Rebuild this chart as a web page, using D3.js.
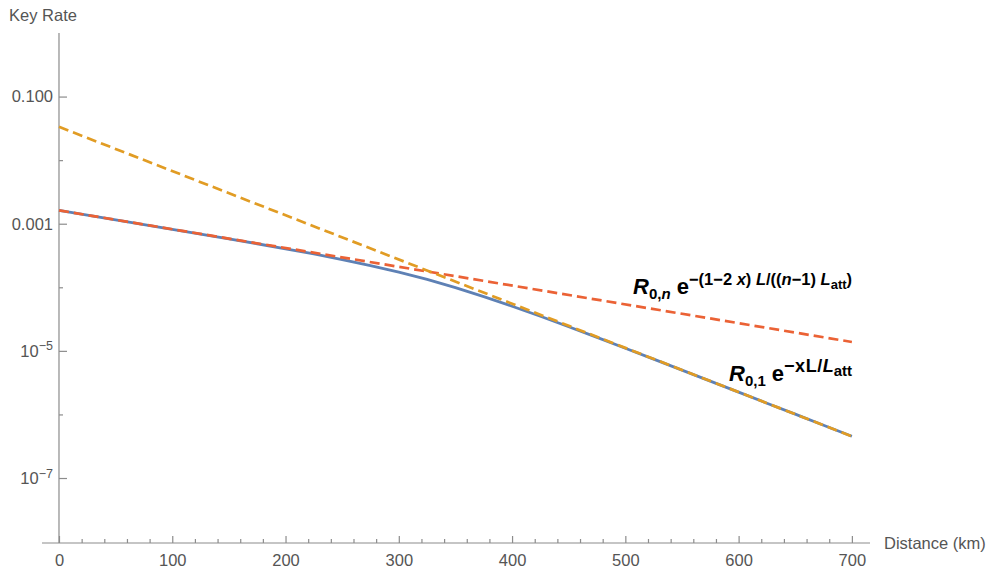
<!DOCTYPE html>
<html>
<head>
<meta charset="utf-8">
<script src="https://cdn.jsdelivr.net/npm/d3@7"></script>
<style>
  html, body { margin: 0; padding: 0; background: #fff; }
  svg { display: block; font-family: "Liberation Sans", Arial, sans-serif; }
</style>
</head>
<body>
<svg id="chart" width="991" height="572"></svg>
<script>
// Distance grid (km) for the exact key-rate curve
const distance = [0, 25, 50, 75, 100, 125, 150, 175, 200, 225, 250, 275, 300, 325, 350,
                  375, 400, 425, 450, 475, 500, 525, 550, 575, 600, 625, 650, 675, 700];
// Key rate (solid curve)
const keyRate = [1.62e-3, 1.367e-3, 1.152e-3, 9.71e-4, 8.18e-4, 6.88e-4, 5.78e-4, 4.84e-4, 4.03e-4,
                 3.34e-4, 2.73e-4, 2.20e-4, 1.73e-4, 1.33e-4, 9.86e-5, 7.13e-5, 5.04e-5, 3.50e-5,
                 2.39e-5, 1.63e-5, 1.10e-5, 7.40e-6, 4.97e-6, 3.34e-6, 2.24e-6, 1.50e-6, 1.01e-6,
                 6.75e-7, 4.53e-7];
// Asymptotes (straight lines on the log scale)
const asymDistance = [0, 700];
const asymN = [1.62e-3, 1.38e-5];   // R0,n e^{-(1-2x)L/((n-1)Latt)}
const asym1 = [3.34e-2, 4.53e-7];   // R0,1 e^{-xL/Latt}

const xMajor = [0, 100, 200, 300, 400, 500, 600, 700];
const xMinor = [20, 40, 60, 80, 120, 140, 160, 180, 220, 240, 260, 280, 320, 340, 360, 380,
                420, 440, 460, 480, 520, 540, 560, 580, 620, 640, 660, 680];
const yMajor = [1e-1, 1e-3, 1e-5, 1e-7];
const yMinor = [1e-2, 1e-4, 1e-6];

const svg = d3.select("#chart");
const x = d3.scaleLinear().domain([-15, 716]).range([42, 870]);
const y = d3.scaleLog().domain([1, 9.5e-9]).range([33, 543]);

const axisColor = "#8c8c8c";
const textColor = "#555";
const labelSize = "16.5px";

// x axis
const xAxisG = svg.append("g").attr("transform", `translate(0,${y.range()[1]})`);
xAxisG.append("g").attr("class", "major")
  .call(d3.axisBottom(x).tickValues(xMajor).tickSize(-7).tickPadding(11).tickFormat(d3.format("d")));
xAxisG.append("g").attr("class", "minor")
  .call(d3.axisBottom(x).tickValues(xMinor).tickSize(-4).tickFormat(""))
  .select(".domain").remove();
xAxisG.selectAll(".domain").attr("d", `M${x.range()[0]},0H${x.range()[1]}`);

// y axis
const yAxisG = svg.append("g").attr("transform", `translate(${x(0)},0)`);
yAxisG.append("g").attr("class", "major")
  .call(d3.axisLeft(y).tickValues(yMajor).tickSize(-8).tickPadding(6).tickFormat(""));
yAxisG.append("g").attr("class", "minor")
  .call(d3.axisLeft(y).tickValues(yMinor).tickSize(-4).tickFormat(""))
  .select(".domain").remove();
yAxisG.selectAll(".domain").attr("d", `M0,${y.range()[0]}V${y.range()[1]}`);
yAxisG.selectAll(".minor .tick text").remove();
xAxisG.selectAll(".minor .tick text").remove();

// y tick labels: decimals for large values, powers of ten below
yAxisG.selectAll(".major .tick text").each(function(d) {
  const t = d3.select(this);
  const e = Math.round(Math.log10(d));
  if (e >= -3) {
    t.text(d3.format(".3f")(d));
  } else {
    t.text(null);
    t.append("tspan").text("10");
    t.append("tspan").attr("dy", "-0.5em").attr("font-size", "12.5px").text("\u2212" + (-e));
  }
});

svg.selectAll(".domain, .tick line").attr("stroke", axisColor).attr("stroke-width", 1.2);
svg.selectAll(".tick text").attr("fill", textColor).attr("font-size", labelSize)
  .attr("font-family", "Liberation Sans, Arial, sans-serif");

// axis titles
svg.append("text").attr("x", 43).attr("y", 21).attr("text-anchor", "middle")
  .attr("font-size", labelSize).attr("fill", textColor).text("Key Rate");
svg.append("text").attr("x", 884).attr("y", 549)
  .attr("font-size", labelSize).attr("fill", textColor).text("Distance (km)");

// curves
const line = d3.line().x(d => x(d[0])).y(d => y(d[1]));
const plot = svg.append("g");
plot.append("path").datum(distance.map((d, i) => [d, keyRate[i]]))
  .attr("d", line).attr("fill", "none").attr("stroke", "#5E81B5").attr("stroke-width", 2.8);
plot.append("path").datum(asymDistance.map((d, i) => [d, asymN[i]]))
  .attr("d", line).attr("fill", "none").attr("stroke", "#EB6235").attr("stroke-width", 2.7)
  .attr("stroke-dasharray", "10,5");
plot.append("path").datum(asymDistance.map((d, i) => [d, asym1[i]]))
  .attr("d", line).attr("fill", "none").attr("stroke", "#E19C24").attr("stroke-width", 2.7)
  .attr("stroke-dasharray", "10,5");

// formula labels
const big = "22px", sub = "15px", sup = "16.5px", subsup = "13px";
const lab1 = svg.append("text").attr("x", 633).attr("y", 294)
  .attr("font-weight", "bold").attr("font-size", big).attr("fill", "#000");
lab1.append("tspan").attr("font-style", "italic").text("R");
lab1.append("tspan").attr("font-size", sub).attr("dy", 5).text("0,");
lab1.append("tspan").attr("font-size", sub).attr("font-style", "italic").text("n");
lab1.append("tspan").attr("dy", -5).text(" e");
lab1.append("tspan").attr("font-size", sup).attr("dy", -9).text("\u2212(1\u22122 ");
lab1.append("tspan").attr("font-size", sup).attr("font-style", "italic").text("x");
lab1.append("tspan").attr("font-size", sup).text(") ");
lab1.append("tspan").attr("font-size", sup).attr("font-style", "italic").text("L");
lab1.append("tspan").attr("font-size", sup).text("/((");
lab1.append("tspan").attr("font-size", sup).attr("font-style", "italic").text("n");
lab1.append("tspan").attr("font-size", sup).text("\u22121) ");
lab1.append("tspan").attr("font-size", sup).attr("font-style", "italic").text("L");
lab1.append("tspan").attr("font-size", subsup).attr("dy", 4).text("att");
lab1.append("tspan").attr("font-size", sup).attr("dy", -4).text(")");

const lab2 = svg.append("text").attr("x", 729).attr("y", 381)
  .attr("font-weight", "bold").attr("font-size", big).attr("fill", "#000");
lab2.append("tspan").attr("font-style", "italic").text("R");
lab2.append("tspan").attr("font-size", sub).attr("dy", 5).text("0,1");
lab2.append("tspan").attr("dy", -5).text("  e");
lab2.append("tspan").attr("font-size", "18px").attr("dy", -9).attr("letter-spacing", "0.5px").text("\u2212xL/");
lab2.append("tspan").attr("font-size", "18px").attr("font-style", "italic").text("L");
lab2.append("tspan").attr("font-size", "15px").attr("dy", 4).text("att");
</script>
</body>
</html>
